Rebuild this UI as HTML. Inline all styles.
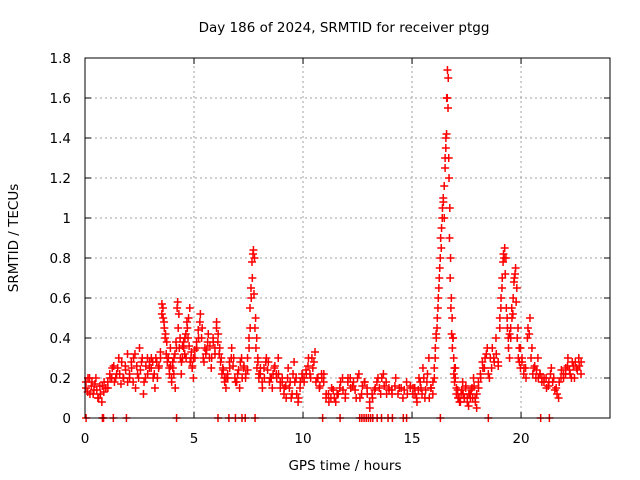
<!DOCTYPE html>
<html><head><meta charset="utf-8"><style>
body{margin:0;background:#fff;}
svg{display:block;font-family:"DejaVu Sans","Liberation Sans",sans-serif;}
</style></head><body>
<svg id="chart" width="640" height="480" viewBox="0 0 640 480">
<rect width="640" height="480" fill="#fff"/>
<text x="344" y="32" font-size="13.5" text-anchor="middle">Day 186 of 2024, SRMTID for receiver ptgg</text>
<text transform="translate(18,238) rotate(-90)" font-size="13.5" text-anchor="middle">SRMTID / TECUs</text>
<text x="345" y="470" font-size="13.5" text-anchor="middle">GPS time / hours</text>
<g id="grid"></g>
<g id="ticks"></g>
<g id="marks"></g>
<rect x="85" y="58" width="525" height="360" fill="none" stroke="#000" stroke-width="1"/>
</svg>
<script>
const xTicks=[0,5,10,15,20];
const yTicks=[0,0.2,0.4,0.6,0.8,1,1.2,1.4,1.6,1.8];
const yTickLabels=["0","0.2","0.4","0.6","0.8","1","1.2","1.4","1.6","1.8"];
const segStarts=[0,1,2,3,3.5,4,4.5,5,6,6.5,7.5,8,9,10,11,12,13,14,15,16,16.5,17,17.5,18,19,19.5,20,21,22];
const segEnds=[1,2,3,3.5,4,4.5,5,6,6.5,7.5,8,9,10,11,12,13,14,15,16,16.5,17,17.5,18,19,19.5,20,21,22,22.8];
const segValues=[
[0.15,0.2,0.12,0.18,0.14,0.2,0.1,0.16,0.08,0.13,0.15],
[0.15,0.2,0.25,0.18,0.22,0.3,0.17,0.2,0.26,0.32],
[0.2,0.25,0.3,0.15,0.22,0.35,0.28,0.12,0.2,0.3,0.25],
[0.3,0.2,0.15,0.28,0.25,0.33],
[0.57,0.5,0.45,0.42,0.38,0.3,0.25,0.35,0.2],
[0.25,0.3,0.15,0.35,0.58,0.52,0.4,0.22,0.3],
[0.35,0.4,0.3,0.45,0.5,0.55,0.3,0.25,0.2],
[0.3,0.35,0.4,0.52,0.45,0.28,0.32,0.38,0.3,0.25,0.4,0.35],
[0.48,0.42,0.35,0.3,0.25,0.2,0.15],
[0.2,0.25,0.35,0.3,0.18,0.22,0.15,0.3,0.25,0.2,0.3],
[0.35,0.45,0.6,0.7,0.84,0.8,0.5,0.4,0.3,0.2],
[0.25,0.15,0.2,0.3,0.28,0.2,0.15,0.25,0.22,0.3,0.18],
[0.2,0.15,0.1,0.25,0.18,0.12,0.28,0.2,0.08,0.15,0.22],
[0.18,0.22,0.3,0.2,0.25,0.33,0.2,0.15,0.22,0.18],
[0.12,0.08,0.15,0.1,0.12,0.15,0.2,0.1],
[0.2,0.15,0.18,0.1,0.22,0.12,0.18,0.15],
[0.05,0.1,0.15,0.2,0.12,0.22,0.18,0.15],
[0.12,0.2,0.15,0.1,0.18,0.15],
[0.15,0.12,0.08,0.2,0.15,0.25,0.1,0.18,0.3,0.15,0.12],
[0.2,0.35,0.4,0.5,0.6,0.7,0.8,0.85,1.0,1.1,1.16],
[1.3,1.4,1.6,1.74,1.7,1.2,1.05,0.8,0.6,0.5,0.4,0.3,0.25,0.2],
[0.15,0.1,0.08,0.12,0.18,0.1,0.15],
[0.08,0.12,0.1,0.15,0.2,0.1,0.05],
[0.15,0.2,0.25,0.3,0.35,0.2,0.25,0.3,0.4,0.28],
[0.5,0.6,0.7,0.82,0.85,0.8,0.5,0.4,0.3],
[0.4,0.5,0.6,0.7,0.75,0.65,0.45,0.35,0.25],
[0.3,0.25,0.2,0.45,0.5,0.35,0.25,0.2,0.3,0.22,0.18],
[0.2,0.15,0.18,0.25,0.2,0.15,0.1,0.2,0.22],
[0.25,0.3,0.22,0.28,0.2,0.25,0.3,0.22]
];
const segValues2=[
[0.18,0.13,0.2,0.16,0.12,0.17,0.14,0.1,0.12,0.16,0.18,0.15],
[0.18,0.22,0.2,0.26,0.2,0.25,0.22,0.28,0.2,0.24,0.18],
[0.22,0.28,0.18,0.32,0.26,0.2,0.24,0.3,0.18,0.26,0.22,0.28],
[0.25,0.28,0.22,0.3,0.2,0.26,0.3],
[0.52,0.55,0.48,0.4,0.32,0.28,0.3,0.22,0.26,0.18],
[0.28,0.22,0.32,0.38,0.55,0.45,0.35,0.3,0.28,0.36],
[0.38,0.32,0.42,0.48,0.4,0.36,0.28,0.33,0.26,0.3],
[0.34,0.38,0.44,0.48,0.4,0.3,0.35,0.34,0.42,0.36,0.3,0.38,0.32],
[0.45,0.38,0.32,0.28,0.22,0.24,0.18,0.2],
[0.22,0.28,0.3,0.26,0.2,0.18,0.24,0.28,0.2,0.26,0.22,0.24],
[0.4,0.55,0.65,0.78,0.82,0.62,0.45,0.35,0.25,0.28,0.22],
[0.22,0.18,0.25,0.28,0.24,0.18,0.2,0.22,0.26,0.2,0.22,0.15],
[0.18,0.12,0.16,0.2,0.15,0.1,0.22,0.18,0.12,0.1,0.18,0.2],
[0.2,0.24,0.26,0.22,0.3,0.28,0.18,0.2,0.16,0.2,0.22],
[0.1,0.12,0.1,0.14,0.08,0.12,0.18,0.14,0.12],
[0.18,0.2,0.16,0.14,0.2,0.1,0.16,0.18,0.12],
[0.08,0.12,0.14,0.18,0.15,0.2,0.16,0.12,0.14],
[0.14,0.16,0.12,0.15,0.14,0.12,0.16],
[0.12,0.15,0.1,0.14,0.18,0.12,0.2,0.14,0.22,0.1,0.15,0.18],
[0.25,0.3,0.42,0.45,0.55,0.65,0.75,0.9,0.95,1.05,1.08,1.0],
[1.25,1.35,1.42,1.6,1.55,1.3,0.9,0.7,0.55,0.42,0.35,0.4,0.22,0.18,0.25],
[0.12,0.14,0.1,0.08,0.14,0.12,0.1,0.16],
[0.1,0.06,0.12,0.14,0.1,0.16,0.08,0.12],
[0.18,0.22,0.28,0.25,0.32,0.22,0.3,0.35,0.28,0.32,0.26],
[0.45,0.55,0.65,0.78,0.8,0.72,0.55,0.45,0.35,0.42],
[0.45,0.55,0.52,0.68,0.72,0.58,0.4,0.3,0.28,0.35],
[0.28,0.22,0.25,0.4,0.42,0.3,0.22,0.26,0.24,0.2,0.22,0.2],
[0.18,0.2,0.16,0.22,0.18,0.14,0.12,0.18,0.24,0.2],
[0.22,0.26,0.24,0.2,0.26,0.28,0.24,0.26,0.28]
];
const zeroTimes=[0.05,0.8,0.85,1.3,1.9,4.2,6.1,6.6,6.9,7.2,7.35,7.8,10.9,11.7,12.6,12.7,12.8,12.9,13.0,13.1,13.2,13.4,13.6,13.9,14.1,14.6,14.75,16.3,18.5,20.9,21.3];
const NS="http://www.w3.org/2000/svg";
const X0=85,X1=610,Y0=418,Y1=58,XMAX=24.08,YMAX=1.8;
function xs(t){return X0+(X1-X0)*t/XMAX;}
function ys(v){return Y0-(Y0-Y1)*v/YMAX;}
const grid=document.getElementById('grid'),ticks=document.getElementById('ticks'),marks=document.getElementById('marks');
function mk(tag,attrs,parent){const e=document.createElementNS(NS,tag);for(const k in attrs)e.setAttribute(k,attrs[k]);parent.appendChild(e);return e;}
yTicks.forEach((v,i)=>{
 const y=ys(v);
 if(i>0&&i<yTicks.length-1){const g=mk('line',{x1:X0,x2:X1,y1:y,y2:y,stroke:'#a0a0a0','stroke-dasharray':'2,3'},grid);
 
 }
 const l=mk('line',{x1:X0,x2:X0+6,y1:y,y2:y,stroke:'#000'},ticks);
 
 
 mk('line',{x1:X1,x2:X1-6,y1:y,y2:y,stroke:'#000'},ticks);
 const t=mk('text',{x:X0-14,y:y+5,'font-size':'13.5','text-anchor':'end'},ticks);
 t.textContent=yTickLabels[i];
 
 
});
xTicks.forEach(v=>{
 const x=xs(v);
 if(v>0){const g=mk('line',{x1:x,x2:x,y1:Y0,y2:Y1,stroke:'#a0a0a0','stroke-dasharray':'2,3'},grid);
 
 }
 mk('line',{x1:x,x2:x,y1:Y0,y2:Y0-6,stroke:'#000'},ticks);
 mk('line',{x1:x,x2:x,y1:Y1,y2:Y1+6,stroke:'#000'},ticks);
 const t=mk('text',{x:x,y:Y0+25,'font-size':'13.5','text-anchor':'middle'},ticks);
 t.textContent=String(v);
 
 
});
function plus(t,v,color){
 const x=xs(t),y=ys(v);
 const p=mk('path',{d:`M${x-4},${y}h8M${x},${y-4}v8`,stroke:color,'stroke-width':'1.5',fill:'none'},marks);
 
 
}
[segValues,segValues2].forEach(sv=>{
 sv.forEach((vals,s)=>{
  const a=segStarts[s],b=segEnds[s],n=vals.length;
  vals.forEach((v,i)=>{plus(a+(b-a)*(i+0.5)/n,v,'#ff0000');});
 });
});
zeroTimes.forEach(t=>{plus(t,0,'#ff0000');});
</script>
</body></html>
